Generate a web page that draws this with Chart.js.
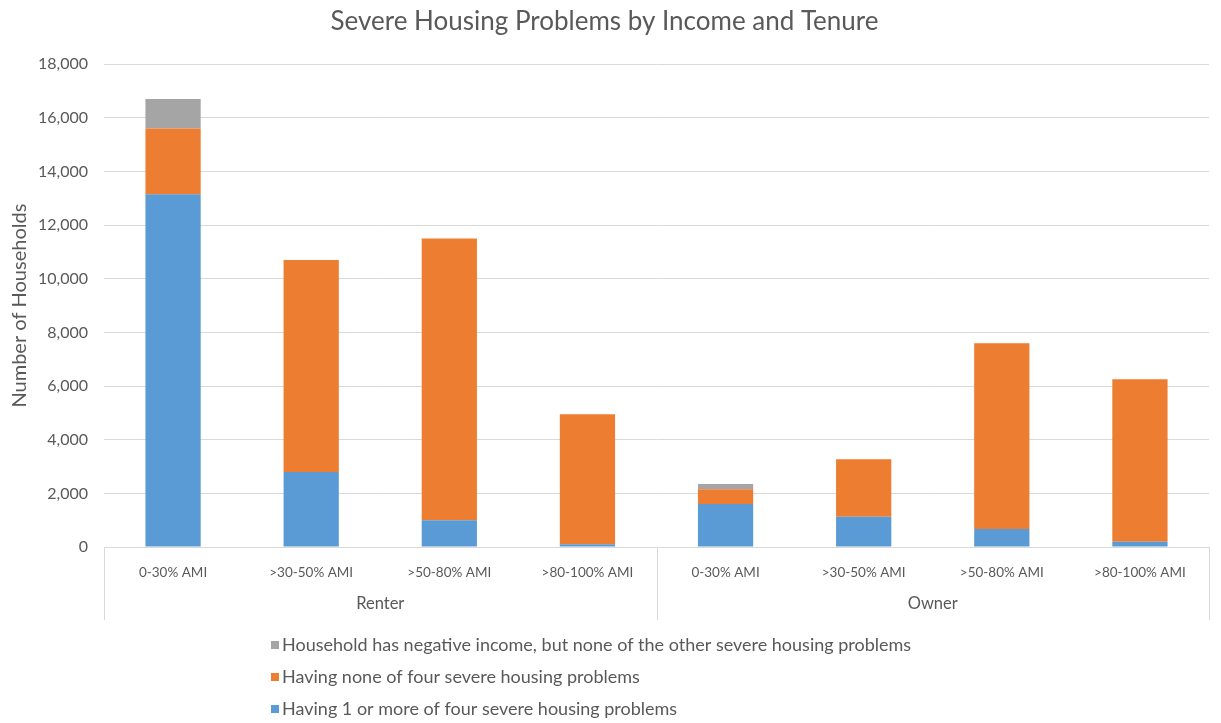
<!DOCTYPE html>
<html>
<head>
<meta charset="utf-8">
<script src="https://cdn.jsdelivr.net/npm/chart.js@4/dist/chart.umd.min.js"></script>
<style>
  html, body { margin: 0; padding: 0; background: #ffffff; }
  #wrap { width: 1221px; height: 723px; }
</style>
</head>
<body>
<div id="wrap"><canvas id="c" width="1221" height="723"></canvas></div>
<script>
// Income bands, repeated for each tenure group
const categories = ['0-30% AMI', '>30-50% AMI', '>50-80% AMI', '>80-100% AMI',
                    '0-30% AMI', '>30-50% AMI', '>50-80% AMI', '>80-100% AMI'];
const tenureGroups = ['Renter', 'Owner'];
const bandsPerGroup = 4;

// Household counts per band (stacked bottom to top)
const oneOrMoreProblems = [13150, 2800, 1000, 100, 1600, 1130, 670, 200];
const noneOfFourProblems = [2450, 7900, 10500, 4850, 550, 2140, 6930, 6050];
const negativeIncomeOnly = [1100, 0, 0, 0, 200, 0, 0, 0];

const seriesNames = [
  'Having 1 or more of four severe housing problems',
  'Having none of four severe housing problems',
  'Household has negative income, but none of the other severe housing problems'
];

const yTicks = [0, 2000, 4000, 6000, 8000, 10000, 12000, 14000, 16000, 18000];

const FONT = 'Lato, "Open Sans", sans-serif';
const TEXT = '#595959';
const GRID = '#d9d9d9';

// Draws the tenure grouping below the band labels and the stacked legend list
const groupingAndLegend = {
  id: 'groupingAndLegend',
  afterDraw(chart) {
    const ctx = chart.ctx;
    const x = chart.scales.x;
    const base = chart.chartArea.bottom;
    const splitX = (x.getPixelForTick(bandsPerGroup - 1) + x.getPixelForTick(bandsPerGroup)) / 2;
    const edges = [x.left, splitX, x.right];

    ctx.save();
    ctx.strokeStyle = GRID;
    ctx.lineWidth = 1;
    edges.forEach(px => {
      const p = Math.round(px) + 0.5;
      ctx.beginPath();
      ctx.moveTo(p, base);
      ctx.lineTo(p, base + 73);
      ctx.stroke();
    });

    ctx.fillStyle = TEXT;
    ctx.font = '16.5px ' + FONT;
    ctx.textAlign = 'center';
    ctx.textBaseline = 'middle';
    tenureGroups.forEach((g, i) => {
      ctx.fillText(g, (edges[i] + edges[i + 1]) / 2, base + 57);
    });

    // legend, top entry is the topmost stack segment
    const ds = chart.data.datasets.slice().reverse();
    ctx.textAlign = 'left';
    ctx.font = '18px ' + FONT;
    ds.forEach((d, i) => {
      const cy = 645 + i * 32;
      ctx.fillStyle = d.backgroundColor;
      ctx.fillRect(271, cy - 4, 8, 8);
      ctx.fillStyle = TEXT;
      ctx.fillText(d.label, 282, cy);
    });
    ctx.restore();
  }
};

new Chart(document.getElementById('c'), {
  type: 'bar',
  data: {
    labels: categories,
    datasets: [
      { label: seriesNames[0], data: oneOrMoreProblems, backgroundColor: '#5b9bd5' },
      { label: seriesNames[1], data: noneOfFourProblems, backgroundColor: '#ed7d31' },
      { label: seriesNames[2], data: negativeIncomeOnly, backgroundColor: '#a5a5a5' }
    ]
  },
  options: {
    responsive: false,
    animation: false,
    layout: { padding: { left: 0, right: 12, top: 0, bottom: 0 } },
    datasets: { bar: { categoryPercentage: 1, barPercentage: 0.4, borderWidth: 0 } },
    plugins: {
      legend: { display: false },
      tooltip: { enabled: false },
      title: {
        display: true,
        text: 'Severe Housing Problems by Income and Tenure',
        color: TEXT,
        font: { family: FONT, size: 26, weight: 'normal' },
        padding: { top: 6, bottom: 27 }
      }
    },
    scales: {
      x: {
        stacked: true,
        grid: { display: false },
        border: { display: false },
        ticks: { color: TEXT, font: { family: FONT, size: 13.5 }, padding: 10, maxRotation: 0, autoSkip: false },
        afterFit(scale) { scale.height = 176; }
      },
      y: {
        stacked: true,
        min: 0,
        max: 18000,
        afterBuildTicks(scale) { scale.ticks = yTicks.map(v => ({ value: v })); },
        grid: { color: GRID, drawTicks: false },
        border: { display: false },
        ticks: {
          color: TEXT,
          font: { family: FONT, size: 16 },
          padding: 16,
          callback: v => v.toLocaleString('en-US')
        },
        title: {
          display: true,
          text: 'Number of Households',
          color: TEXT,
          font: { family: FONT, size: 20 },
          padding: { top: 8, bottom: 0 }
        },
        afterFit(scale) { scale.width = 104; }
      }
    }
  },
  plugins: [groupingAndLegend]
});
</script>
</body>
</html>
